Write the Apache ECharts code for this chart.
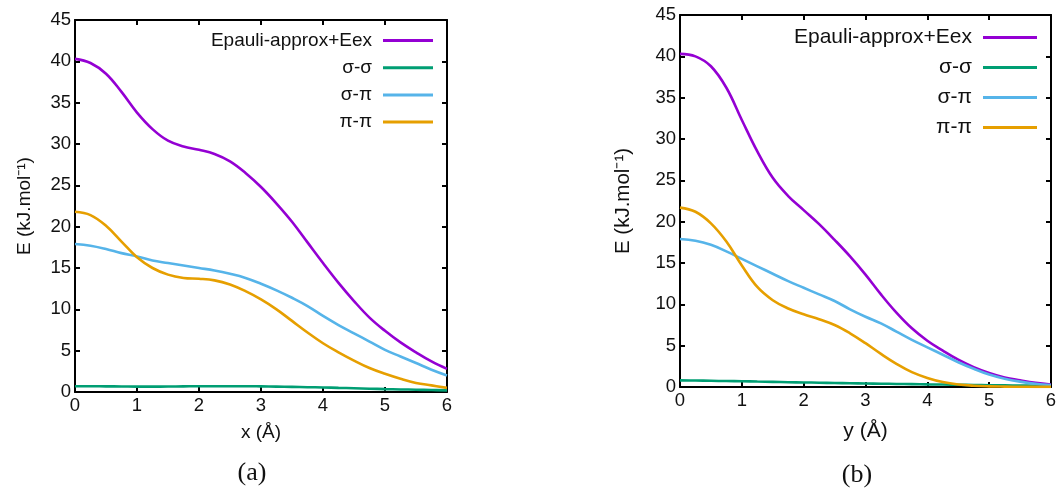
<!DOCTYPE html>
<html>
<head>
<meta charset="utf-8">
<script src="https://cdn.jsdelivr.net/npm/echarts@6/dist/echarts.min.js"></script>
<style>
  html, body { margin: 0; padding: 0; background: #fff; }
  #chart { width: 1060px; height: 488px; }
</style>
</head>
<body>
<div id="chart"></div>
<script>
// Displacement grid (Å), shared by both panels
const positions = [0, 0.25, 0.5, 0.75, 1, 1.25, 1.5, 1.75, 2, 2.25, 2.5, 2.75, 3,
                   3.25, 3.5, 3.75, 4, 4.25, 4.5, 4.75, 5, 5.25, 5.5, 5.75, 6];

const seriesNames = ['Epauli-approx+Eex', 'σ-σ', 'σ-π', 'π-π'];
const yTicks = [0, 5, 10, 15, 20, 25, 30, 35, 40, 45];
const xTicks = [0, 1, 2, 3, 4, 5, 6];

// Panel (a): displacement along x
const xPauli = [40.3, 39.8, 38.5, 36.3, 33.8, 31.8, 30.4, 29.7, 29.3, 28.8, 27.9, 26.5, 24.8,
                22.8, 20.6, 18.1, 15.6, 13.2, 11.0, 9.0, 7.4, 6.0, 4.8, 3.7, 2.8];
const xSigmaSigma = [0.7, 0.7, 0.68, 0.67, 0.65, 0.65, 0.66, 0.68, 0.7, 0.7, 0.7, 0.7, 0.68,
                     0.65, 0.62, 0.58, 0.55, 0.5, 0.45, 0.4, 0.35, 0.31, 0.28, 0.24, 0.2];
const xSigmaPi = [17.9, 17.7, 17.3, 16.8, 16.4, 15.9, 15.6, 15.3, 15.0, 14.7, 14.3, 13.8, 13.1,
                  12.3, 11.4, 10.4, 9.2, 8.1, 7.1, 6.1, 5.1, 4.3, 3.5, 2.7, 2.0];
const xPiPi = [21.8, 21.4, 20.1, 18.2, 16.3, 15.0, 14.2, 13.8, 13.7, 13.5, 13.0, 12.2, 11.2,
               10.0, 8.6, 7.2, 5.9, 4.8, 3.8, 2.9, 2.2, 1.6, 1.1, 0.8, 0.5];

// Panel (b): displacement along y
const yPauli = [40.3, 40.0, 38.8, 36.2, 32.3, 28.5, 25.3, 23.1, 21.4, 19.7, 17.8, 15.8, 13.6,
                11.2, 9.0, 7.1, 5.6, 4.4, 3.3, 2.4, 1.7, 1.15, 0.8, 0.5, 0.3];
const ySigmaSigma = [0.8, 0.78, 0.75, 0.72, 0.7, 0.66, 0.62, 0.58, 0.55, 0.52, 0.48, 0.45, 0.42,
                     0.4, 0.37, 0.35, 0.32, 0.3, 0.27, 0.25, 0.22, 0.2, 0.18, 0.16, 0.15];
const ySigmaPi = [17.9, 17.7, 17.2, 16.4, 15.5, 14.6, 13.7, 12.8, 12.0, 11.2, 10.4, 9.4, 8.5,
                  7.7, 6.7, 5.7, 4.8, 3.9, 3.0, 2.2, 1.5, 1.0, 0.65, 0.4, 0.25];
const yPiPi = [21.7, 21.2, 19.8, 17.6, 14.7, 12.1, 10.5, 9.5, 8.8, 8.2, 7.5, 6.5, 5.3,
               4.0, 2.8, 1.8, 1.1, 0.6, 0.3, 0.15, 0.08, 0.05, 0.03, 0.02, 0.01];

const colors = ['#9400d3', '#009e73', '#56b4e9', '#e69f00'];
const FONT = 'Liberation Sans';
const INK = '#111';

function pairs(vals) {
  return positions.map((p, i) => [p, vals[i]]);
}

function xAxisPair(gridIndex, nameText, nameSize, nameGap) {
  const common = {
    type: 'value', gridIndex,
    min: xTicks[0], max: xTicks[xTicks.length - 1], interval: 1,
    splitLine: { show: false },
    axisLine: { show: true, onZero: false, lineStyle: { color: '#000', width: 2 } },
    axisTick: { show: true, inside: true, length: 5, lineStyle: { color: '#000', width: 2 } }
  };
  return [
    Object.assign({}, common, {
      position: 'bottom',
      axisLabel: { show: true, margin: 4, color: INK, fontFamily: FONT, fontSize: 18.5 },
      name: nameText, nameLocation: 'middle', nameGap: nameGap,
      nameTextStyle: { color: INK, fontFamily: FONT, fontSize: nameSize }
    }),
    Object.assign({}, common, { position: 'top', axisLabel: { show: false } })
  ];
}

function yAxisPair(gridIndex, nameGap, nameSize) {
  const common = {
    type: 'value', gridIndex,
    min: yTicks[0], max: yTicks[yTicks.length - 1], interval: 5,
    splitLine: { show: false },
    axisLine: { show: true, onZero: false, lineStyle: { color: '#000', width: 2 } },
    axisTick: { show: true, inside: true, length: 5, lineStyle: { color: '#000', width: 2 } }
  };
  return [
    Object.assign({}, common, {
      position: 'left',
      axisLabel: { show: true, margin: 4, color: INK, fontFamily: FONT, fontSize: 18.5 },
      name: 'E (kJ.mol⁻¹)', nameLocation: 'middle', nameGap: nameGap, nameRotate: 90,
      nameTextStyle: { color: INK, fontFamily: FONT, fontSize: nameSize }
    }),
    Object.assign({}, common, { position: 'right', axisLabel: { show: false } })
  ];
}

function lineSeries(name, vals, colorIdx, xAxisIndex, yAxisIndex) {
  return {
    type: 'line', name,
    data: pairs(vals),
    xAxisIndex, yAxisIndex,
    smooth: 0.4,
    showSymbol: false, symbol: 'none',
    silent: true,
    color: colors[colorIdx],
    itemStyle: { color: colors[colorIdx] },
    lineStyle: { color: colors[colorIdx], width: 2.6 }
  };
}

function keyFor(rightPx, topPx, fontSize, textWidth, iconWidth, lineH, gap) {
  return {
    data: seriesNames,
    orient: 'vertical',
    right: rightPx, top: topPx,
    padding: 0,
    align: 'right',
    icon: 'rect',
    itemWidth: iconWidth, itemHeight: 3,
    itemGap: gap,
    selectedMode: false,
    textStyle: {
      color: INK, fontFamily: FONT, fontSize: fontSize,
      width: textWidth, align: 'right', lineHeight: lineH,
      padding: [0, 6, 0, 0]
    }
  };
}

const panelA = [xPauli, xSigmaSigma, xSigmaPi, xPiPi];
const panelB = [yPauli, ySigmaSigma, ySigmaPi, yPiPi];

const series = [];
panelA.forEach((vals, i) => series.push(lineSeries(seriesNames[i], vals, i, 0, 0)));
panelB.forEach((vals, i) => series.push(lineSeries(seriesNames[i], vals, i, 2, 2)));

const option = {
  animation: false,
  backgroundColor: '#fff',
  grid: [
    { left: 75, top: 20, width: 372, height: 372, containLabel: false },
    { left: 680, top: 15, width: 371, height: 372, containLabel: false }
  ],
  xAxis: [].concat(xAxisPair(0, 'x (Å)', 19, 31), xAxisPair(1, 'y (Å)', 21, 34)),
  yAxis: [].concat(yAxisPair(0, 41, 19), yAxisPair(1, 46, 20.5)),
  legend: [
    keyFor(1060 - 433, 30, 19, 160, 50, 21, 6.2),
    keyFor(1060 - 1037, 26, 21, 177, 54, 23, 7)
  ],
  graphic: [
    { type: 'text', x: 252, y: 473,
      style: { text: '(a)', font: '26px "Liberation Serif"', fill: INK,
               align: 'center', verticalAlign: 'middle' } },
    { type: 'text', x: 857, y: 475,
      style: { text: '(b)', font: '26px "Liberation Serif"', fill: INK,
               align: 'center', verticalAlign: 'middle' } }
  ],
  series
};

const chart = echarts.init(document.getElementById('chart'), null, { renderer: 'canvas' });
chart.setOption(option);
</script>
</body>
</html>
